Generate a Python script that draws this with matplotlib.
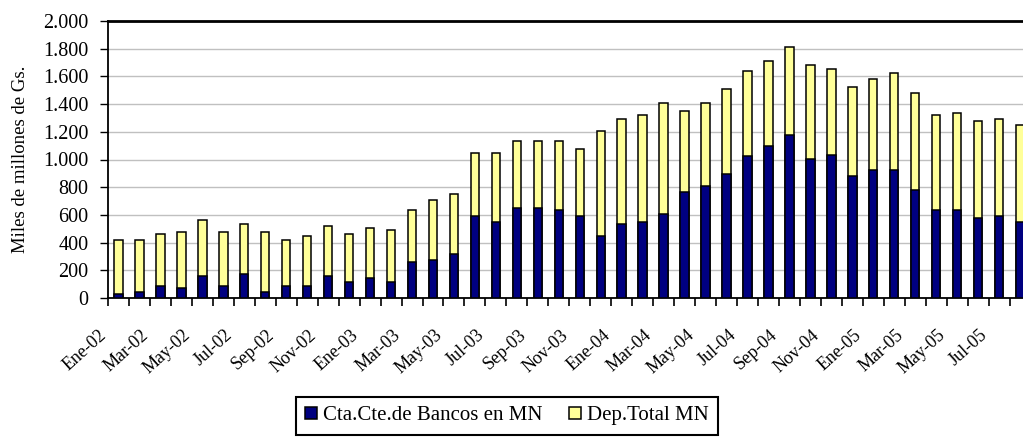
import matplotlib
matplotlib.use("Agg")
import matplotlib.pyplot as plt
from matplotlib.ticker import FuncFormatter, FixedLocator
from matplotlib.transforms import ScaledTranslation
import numpy as np

months = ["Ene-02", "Feb-02", "Mar-02", "Abr-02", "May-02", "Jun-02", "Jul-02", "Ago-02",
          "Sep-02", "Oct-02", "Nov-02", "Dic-02",
          "Ene-03", "Feb-03", "Mar-03", "Abr-03", "May-03", "Jun-03", "Jul-03", "Ago-03",
          "Sep-03", "Oct-03", "Nov-03", "Dic-03",
          "Ene-04", "Feb-04", "Mar-04", "Abr-04", "May-04", "Jun-04", "Jul-04", "Ago-04",
          "Sep-04", "Oct-04", "Nov-04", "Dic-04",
          "Ene-05", "Feb-05", "Mar-05", "Abr-05", "May-05", "Jun-05", "Jul-05", "Ago-05"]

cta_cte = [29, 43, 86, 72, 158, 86, 173, 43, 86, 86, 158, 115,
           144, 115, 259, 273, 317, 590, 547, 647, 647, 633, 590, 446,
           532, 547, 604, 763, 806, 892, 1022, 1094, 1180, 1007, 1036, 878,
           921, 921, 777, 633, 633, 576, 590, 547]

dep_total = [417, 417, 460, 475, 561, 475, 532, 475, 417, 446, 518, 460,
             504, 489, 633, 705, 748, 1050, 1050, 1137, 1137, 1137, 1079, 1209,
             1295, 1324, 1410, 1353, 1410, 1511, 1640, 1712, 1813, 1683, 1655, 1525,
             1583, 1626, 1482, 1324, 1338, 1281, 1295, 1252]

label_cta = "Cta.Cte.de Bancos en MN"
label_dep = "Dep.Total MN"
ylabel = "Miles de millones de Gs."

plt.rcParams['font.family'] = ['Liberation Serif', 'DejaVu Serif']

fig = plt.figure(figsize=(10.23, 4.37), dpi=100)
ax = fig.add_axes([108/1023, (437-298)/437, 1 - 108/1023, (298-21)/437])

x = np.arange(len(months))
w = 0.40
ax.bar(x, dep_total, width=w, color="#FFFF99", edgecolor="black", linewidth=1.1,
       label=label_dep, zorder=2)
ax.bar(x, cta_cte, width=w, color="#000080", edgecolor="black", linewidth=1.1,
       label=label_cta, zorder=3)

ax.set_xlim(-0.5, 43.14)
ax.set_ylim(0, 2000)
ax.set_yticks(np.arange(0, 2001, 200))
ax.yaxis.set_major_formatter(FuncFormatter(lambda v, p: f"{int(v):,}".replace(",", ".")))
ax.yaxis.grid(True, color="#c0c0c0", linewidth=1.0, zorder=0)
ax.set_axisbelow(True)

ax.tick_params(axis='y', direction='out', length=6, width=1.0, pad=8, labelsize=14.5)
ax.set_ylabel(ylabel, fontsize=13.5, labelpad=10)

# category boundary ticks
ax.xaxis.set_minor_locator(FixedLocator(np.arange(-0.5, 44, 1.0)))
ax.tick_params(axis='x', which='minor', direction='out', length=6, width=1.2)
major_pos = x[::2]
ax.set_xticks(major_pos)
ax.set_xticklabels([months[i] for i in major_pos], rotation=42, fontsize=13,
                   rotation_mode='anchor', ha='right', va='center')
ax.tick_params(axis='x', which='major', length=0, pad=25)
off = ScaledTranslation(-14/100, 0, fig.dpi_scale_trans)
for lab in ax.get_xticklabels():
    lab.set_transform(lab.get_transform() + off)

ax.spines['right'].set_visible(False)
ax.spines['top'].set_linewidth(2.0)
ax.spines['left'].set_linewidth(1.3)
ax.spines['bottom'].set_linewidth(1.3)
for s in ['top', 'left', 'bottom']:
    ax.spines[s].set_color('black')

h, l = ax.get_legend_handles_labels()
order = [1, 0]
leg = fig.legend([h[i] for i in order], [l[i] for i in order], loc='upper center',
                 bbox_to_anchor=(507/1023, 1 - 397/437), ncol=2, fontsize=15,
                 frameon=True, fancybox=False, edgecolor='black', framealpha=1,
                 handlelength=0.55, handleheight=0.55, handletextpad=0.3,
                 columnspacing=1.3, borderpad=0.45, borderaxespad=0)
leg.get_frame().set_linewidth(1.5)

fig.savefig("out.png", dpi=100)
